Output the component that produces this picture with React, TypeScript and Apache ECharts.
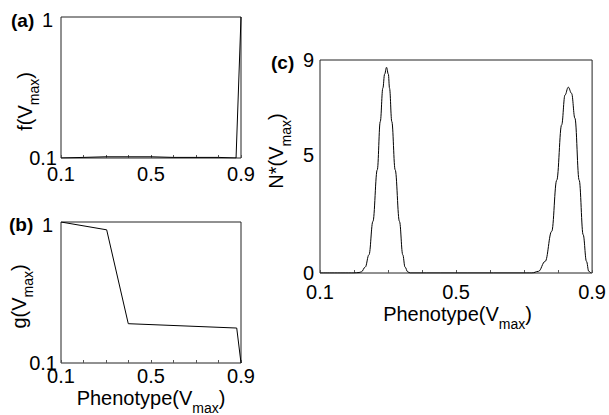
import React, { useEffect, useRef } from "react";
import * as echarts from "echarts";

// ---- data ----
const xTickValues = [0.1, 0.2, 0.3, 0.4, 0.5, 0.6, 0.7, 0.8, 0.9];
const xLabelValues = [0.1, 0.5, 0.9];
const cYLabelValues = [0, 5, 9];

// (a) f(Vmax)
const fX = [0.1, 0.2, 0.3, 0.4, 0.5, 0.6, 0.7, 0.8, 0.878, 0.9];
const fY = [0.1, 0.101, 0.102, 0.102, 0.102, 0.101, 0.101, 0.101, 0.1, 1];

// (b) g(Vmax)
const gX = [0.1, 0.303, 0.399, 0.881, 0.9];
const gY = [1, 0.88, 0.19, 0.177, 0.1];

// (c) N*(Vmax)
const nX = [
  0.1, 0.2, 0.215, 0.2217, 0.233, 0.244, 0.2556, 0.2684, 0.2772, 0.2848, 0.29,
  0.2956, 0.301, 0.3044, 0.3111, 0.321, 0.3336, 0.3434, 0.35, 0.3579, 0.365,
  0.7, 0.7228, 0.7423, 0.762, 0.7813, 0.796, 0.8105, 0.8203, 0.83, 0.8397,
  0.8495, 0.862, 0.8737, 0.8835, 0.8903, 0.898, 0.9,
];
const nY = [
  0, 0, 0.02, 0.05, 0.25, 0.77, 2.18, 4.36, 6.4, 7.81, 8.4,
  8.69, 8.4, 7.81, 6.4, 4.36, 2.18, 0.77, 0.25, 0.05, 0,
  0, 0, 0.07, 0.49, 1.76, 3.92, 6.26, 7.52, 7.85, 7.59,
  6.54, 3.92, 1.62, 0.49, 0.07, 0, 0,
];

const FONT = "Liberation Sans, Arial, Helvetica, sans-serif";
const FS = 20;

function zip(xs: number[], ys: number[]) {
  return xs.map((x, i) => [x, ys[i]]);
}

function fmtX(v: number) {
  return (Math.round(v * 10) / 10).toString();
}

function xAxis(gridIndex: number, margin: number) {
  return {
    gridIndex,
    type: "value",
    min: 0.1,
    max: 0.9,
    axisLine: { show: false },
    splitLine: { show: false },
    axisTick: {
      show: true,
      inside: true,
      length: 3,
      customValues: xTickValues,
      lineStyle: { color: "#555", width: 1 },
    },
    axisLabel: {
      customValues: xLabelValues,
      margin,
      fontSize: FS,
      color: "#000",
      fontFamily: FONT,
      formatter: (v: number) => fmtX(v),
    },
  };
}

function logY(gridIndex: number) {
  return {
    gridIndex,
    type: "log",
    logBase: 10,
    min: 0.1,
    max: 1,
    axisLine: { show: false },
    splitLine: { show: false },
    axisTick: { show: false },
    axisLabel: {
      margin: 4,
      fontSize: FS,
      color: "#000",
      fontFamily: FONT,
      formatter: (v: number) => (v > 0.5 ? "{t|1}" : "0.1"),
      rich: { t: { fontSize: FS, fontFamily: FONT, color: "#000", padding: [6, 4, 0, 0] } },
    },
  };
}

function richName(main: string, rest: string) {
  return `{m|${main}}{s|max}{m|${rest}}`;
}

const richMiddle = {
  m: { fontSize: FS, fontFamily: FONT, fill: "#000" },
  s: { fontSize: 14, fontFamily: FONT, fill: "#000", padding: [19, 0, 0, 0] },
};

const richTop = {
  m: { fontSize: FS, fontFamily: FONT, fill: "#000", verticalAlign: "top" },
  s: { fontSize: 14, fontFamily: FONT, fill: "#000", verticalAlign: "top", padding: [13, 0, 0, 0] },
};

// rotated names: (x, y) = centre of main text; horizontal names: y = top of main text
function nameText(x: number, y: number, main: string, rest: string, rotate: boolean) {
  const va = rotate ? "middle" : "top";
  return {
    type: "text",
    x,
    y,
    rotation: rotate ? Math.PI / 2 : 0,
    style: {
      text: richName(main, rest),
      rich: rotate ? richMiddle : richTop,
      align: "center",
      verticalAlign: va,
      textAlign: "center",
      textVerticalAlign: va,
      fill: "#000",
      font: `${FS}px ${FONT}`,
    },
  };
}

function panelLabel(x: number, y: number, t: string) {
  return {
    type: "text",
    x,
    y,
    style: {
      text: t,
      font: `bold 19px ${FONT}`,
      fill: "#000",
      align: "left",
      verticalAlign: "middle",
      textAlign: "left",
      textVerticalAlign: "middle",
    },
  };
}

export default function App() {
  const ref = useRef<HTMLDivElement>(null);
  useEffect(() => {
    if (!ref.current) return;
    const chart = echarts.init(ref.current, undefined, { renderer: "svg" });
    const gridCommon = { show: true, borderColor: "#222", borderWidth: 1, containLabel: false };
    chart.setOption({
      animation: false,
      backgroundColor: "#fff",
      grid: [
        { ...gridCommon, left: 61, top: 17, width: 180, height: 141 },
        { ...gridCommon, left: 61, top: 222, width: 180, height: 141 },
        { ...gridCommon, left: 320, top: 60, width: 274, height: 213 },
      ],
      xAxis: [xAxis(0, 6), xAxis(1, 3), xAxis(2, 9)],
      yAxis: [
        logY(0),
        logY(1),
        {
          gridIndex: 2,
          type: "value",
          min: 0,
          max: 9,
          axisLine: { show: false },
          splitLine: { show: false },
          axisTick: { show: false },
          axisLabel: {
            customValues: cYLabelValues,
            margin: 6,
            fontSize: FS,
            color: "#000",
            fontFamily: FONT,
          },
        },
      ],
      series: [
        {
          type: "line",
          xAxisIndex: 0,
          yAxisIndex: 0,
          data: zip(fX, fY),
          showSymbol: false,
          lineStyle: { color: "#000", width: 1 },
        },
        {
          type: "line",
          xAxisIndex: 1,
          yAxisIndex: 1,
          data: zip(gX, gY),
          showSymbol: false,
          lineStyle: { color: "#000", width: 1 },
        },
        {
          type: "line",
          xAxisIndex: 2,
          yAxisIndex: 2,
          data: zip(nX, nY),
          showSymbol: false,
          smooth: 0.4,
          smoothMonotone: "x",
          lineStyle: { color: "#000", width: 1 },
        },
      ],
      graphic: [
        panelLabel(11, 20, "(a)"),
        panelLabel(9, 224.5, "(b)"),
        panelLabel(271, 62.5, "(c)"),
        nameText(24.5, 101.5, "f(V", ")", true),
        nameText(18.5, 296.5, "g(V", ")", true),
        nameText(276, 151, "N*(V", ")", true),
        nameText(151, 387.5, "Phenotype(V", ")", false),
        nameText(457.5, 303.5, "Phenotype(V", ")", false),
      ],
    });
    return () => chart.dispose();
  }, []);
  return (
    <div
      ref={ref}
      style={{ position: "absolute", left: 0, top: 0, width: 609, height: 415 }}
    />
  );
}
